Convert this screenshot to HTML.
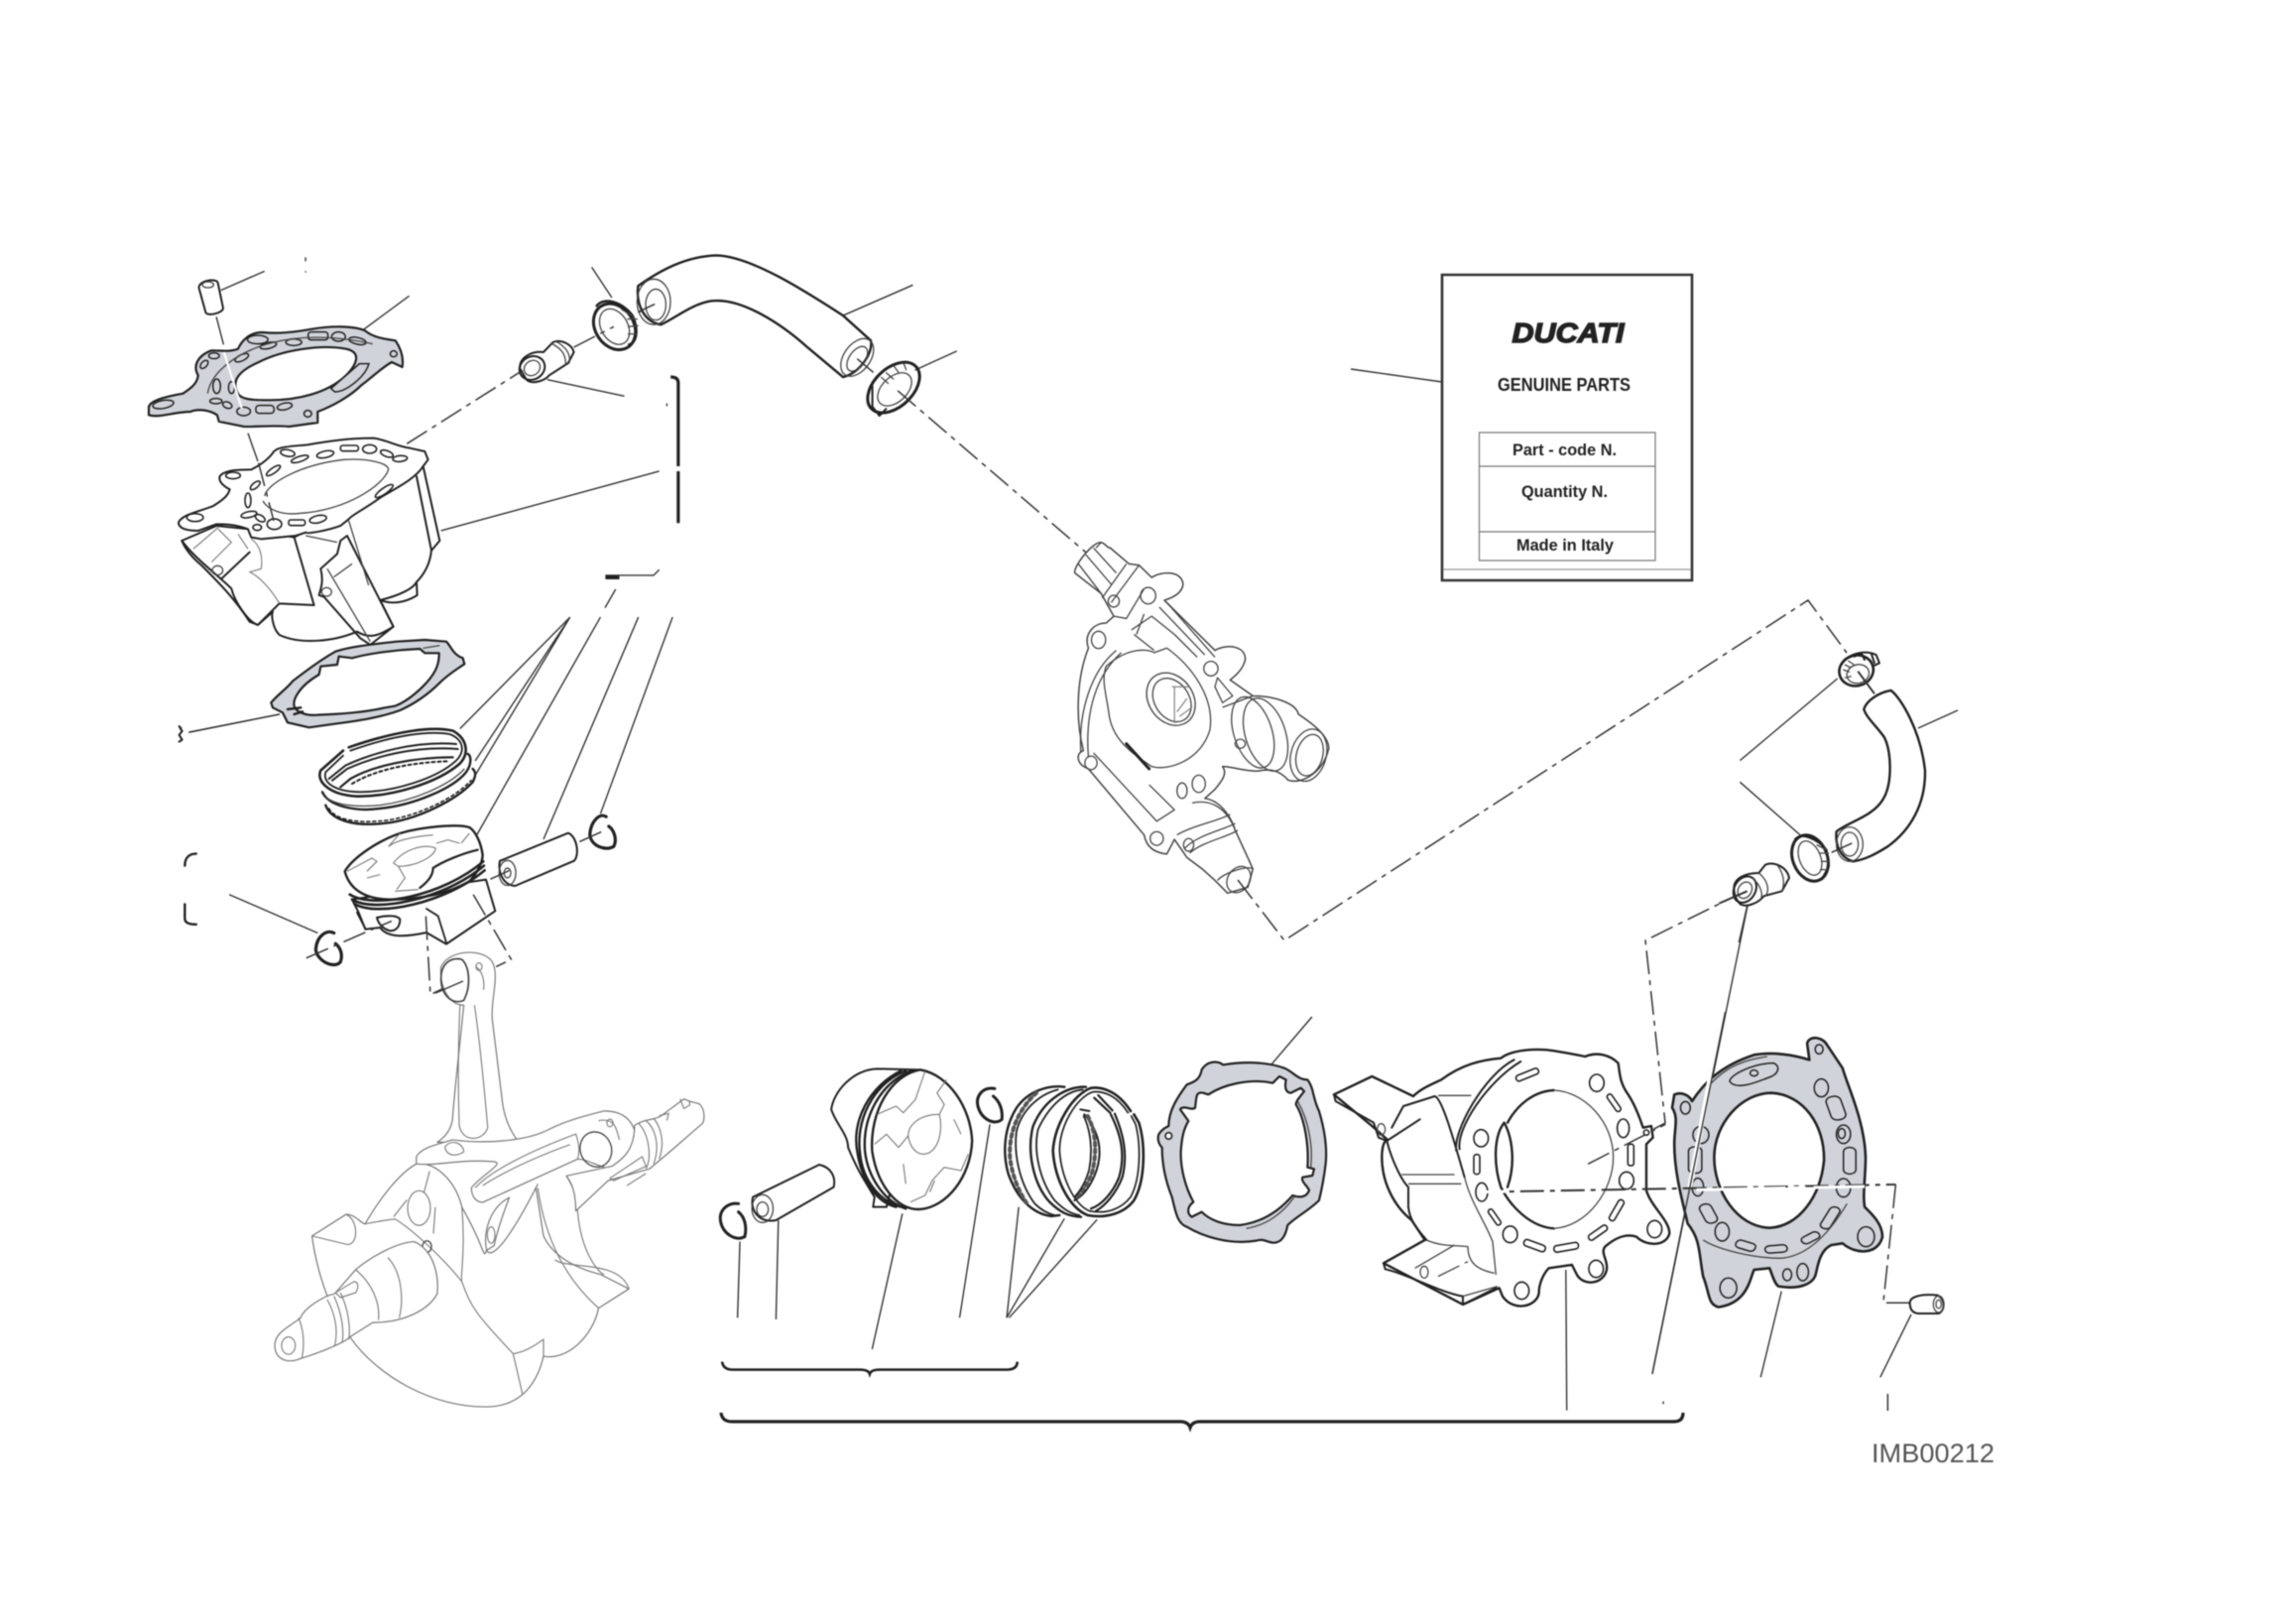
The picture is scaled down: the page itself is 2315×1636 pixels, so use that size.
<!DOCTYPE html>
<html><head><meta charset="utf-8"><title>Cylinder and piston parts diagram</title>
<style>
html,body{margin:0;padding:0;background:#fff}
svg{display:block;filter:blur(.4px)}
svg *{vector-effect:non-scaling-stroke}
.d{fill:none;stroke:#222;stroke-width:2;stroke-linejoin:round;stroke-linecap:round}
.df{fill:#fff;stroke:#222;stroke-width:2;stroke-linejoin:round}
.m{fill:none;stroke:#444;stroke-width:1.3;stroke-linejoin:round}
.mf{fill:#fff;stroke:#444;stroke-width:1.5;stroke-linejoin:round}
.l{fill:none;stroke:#777;stroke-width:1.1;stroke-linejoin:round}
.lf{fill:#fff;stroke:#777;stroke-width:1.2;stroke-linejoin:round}
.t{fill:none;stroke:#333;stroke-width:1.4}
.g{fill:#d0d3da;stroke:#222;stroke-width:2.2;fill-rule:evenodd;stroke-linejoin:round}
.s{fill:#d0d3da;stroke:#222;stroke-width:1.5}
.sw{fill:#fff;stroke:#222;stroke-width:1.6}
.dash{fill:none;stroke:#333;stroke-width:1.5;stroke-dasharray:24 6 5 6}
.w{fill:none;stroke:#fff;stroke-width:2.2}
.th{fill:none;stroke:#222;stroke-width:3.2}
.lab{font-family:"Liberation Sans",sans-serif;font-weight:bold;fill:#222;text-anchor:middle}
</style></head>
<body>
<svg xmlns="http://www.w3.org/2000/svg" width="2315" height="1636" viewBox="0 0 2315 1636">
<rect width="2315" height="1636" fill="#fff"/>

<!-- ============ GD: top-left cylinder ============ -->
<g transform="translate(170,430) scale(.3333)">
  <path class="df" d="M40,345 L145,300 L245,310 L380,335 L770,120 L820,345 L795,375 C790,420 770,450 750,470 L752,510 C720,530 680,540 640,525 L680,605 C640,630 610,645 570,620 C500,650 400,660 335,630 C315,610 310,570 315,560 L270,600 L245,590 C200,520 150,470 100,420 C70,395 50,370 40,345Z"/>
  <path class="d" d="M40,345 C80,400 150,450 190,490 C200,530 240,590 270,600 L335,535 M160,460 L245,380 M380,335 L440,540 M460,430 C470,470 460,490 455,510 L470,515 L580,640 L610,660 L680,605 L540,330 L520,345 L510,385 L460,430 M750,150 L795,375 M335,535 L440,540 M640,525 C700,510 740,490 750,470"/>
  <path class="m" d="M415,330 L510,350 M545,285 L605,480 M480,430 L610,650 M500,455 L555,415"/>
  <path class="l" d="M75,370 L150,305 M150,310 L190,350 L130,410 M210,325 L240,370 M250,340 C280,360 285,400 280,430 L245,440 C270,450 310,490 335,535"/>
  <ellipse class="m" cx="148" cy="435" rx="16" ry="14"/>
  <ellipse class="m" cx="478" cy="500" rx="15" ry="13"/>
  <path class="df" d="M30,290 C40,265 100,255 135,240 C160,225 180,210 185,190 C165,180 150,165 155,150 C170,130 220,130 250,130 C280,115 300,100 315,80 C325,60 370,60 420,55 C480,45 540,35 620,35 C660,40 690,60 730,65 L775,75 L785,100 L770,120 C745,160 680,190 640,215 C600,245 550,270 545,280 L520,300 C480,315 420,325 415,320 L385,330 L280,340 L250,335 L240,310 C200,295 170,295 145,295 L90,315 C60,315 30,310 30,290Z"/>
  <path class="m" d="M290,210 C300,170 400,115 530,100 C600,95 665,110 665,130 C650,180 530,255 400,262 C340,270 300,250 285,225"/>
  <g class="sw">
    <ellipse cx="195" cy="148" rx="22" ry="10"/><ellipse cx="80" cy="275" rx="25" ry="12"/>
    <ellipse cx="360" cy="80" rx="22" ry="10" transform="rotate(10 360 80)"/>
    <ellipse cx="397" cy="98" rx="27" ry="8" transform="rotate(-18 397 98)"/>
    <ellipse cx="474" cy="84" rx="26" ry="10" transform="rotate(-12 474 84)"/>
    <rect x="520" y="57" width="54" height="17" rx="7"/>
    <ellipse cx="608" cy="68" rx="21" ry="13"/>
    <ellipse cx="660" cy="82" rx="20" ry="9" transform="rotate(20 660 82)"/>
    <ellipse cx="700" cy="97" rx="22" ry="9" transform="rotate(-5 700 97)"/>
    <ellipse cx="317" cy="133" rx="25" ry="8" transform="rotate(-35 317 133)"/>
    <ellipse cx="262" cy="178" rx="18" ry="8" transform="rotate(-40 262 178)"/>
    <ellipse cx="240" cy="223" rx="9" ry="22"/>
    <ellipse cx="243" cy="266" rx="24" ry="9" transform="rotate(-12 243 266)"/>
    <ellipse cx="277" cy="277" rx="16" ry="9" transform="rotate(30 277 277)"/>
    <ellipse cx="320" cy="295" rx="22" ry="16"/>
    <ellipse cx="268" cy="305" rx="13" ry="9"/>
    <rect x="363" y="282" width="50" height="17" rx="7"/>
    <ellipse cx="452" cy="280" rx="26" ry="11" transform="rotate(-12 452 280)"/>
    <ellipse cx="652" cy="195" rx="32" ry="9" transform="rotate(-35 652 195)"/>
  </g>
  <path class="t" d="M240,20 L270,105"/>
  <path class="dash" d="M272,110 L318,285"/>
</g>

<!-- ============ G1: top-left parts ============ -->
<g transform="translate(150,240) scale(.3827,.3333)">
  <path class="t" d="M190,158 L305,100 M562,280 L686,175 M1050,428 L1253,478 M770,885 L1345,705 M1167,88 L1220,180"/>
  <path class="df" d="M132,150 C132,128 178,120 182,135 L196,212 C196,226 155,238 150,225 Z"/>
  <ellipse class="m" cx="156" cy="141" rx="15" ry="9"/>
  <path class="t" d="M178,238 L197,322"/>
  <!-- head gasket -->
  <path class="g" d="M0,510 C5,490 50,478 90,470 C110,455 128,440 130,415 C115,385 130,355 165,340 C190,340 215,345 235,335 C245,310 265,285 300,285 C340,290 380,285 430,275 C480,265 540,265 570,280 C590,300 620,305 650,310 C665,335 672,360 668,390 L640,375 C610,395 590,420 560,445 C530,480 480,510 445,525 L445,558 L370,570 C320,565 280,572 250,570 L185,555 L180,535 C160,520 130,515 110,525 C70,525 25,545 0,535 Z M235,470 C215,430 240,400 290,375 C350,340 450,320 520,335 C560,345 550,380 520,415 C470,470 390,490 320,490 C280,490 245,490 235,470 Z"/>
  <g class="s">
    <ellipse cx="38" cy="503" rx="28" ry="12" transform="rotate(-12 38 503)"/>
    <ellipse cx="172" cy="356" rx="14" ry="9"/>
    <ellipse cx="146" cy="382" rx="8" ry="14" transform="rotate(35 146 382)"/>
    <ellipse cx="287" cy="307" rx="27" ry="13"/>
    <ellipse cx="315" cy="325" rx="22" ry="9" transform="rotate(-15 315 325)"/>
    <ellipse cx="382" cy="315" rx="21" ry="10"/>
    <rect x="420" y="284" width="52" height="24" rx="8"/>
    <ellipse cx="500" cy="298" rx="18" ry="14"/>
    <ellipse cx="550" cy="311" rx="23" ry="10" transform="rotate(15 550 311)"/>
    <ellipse cx="245" cy="362" rx="20" ry="9" transform="rotate(-30 245 362)"/>
    <ellipse cx="179" cy="448" rx="10" ry="22"/>
    <ellipse cx="218" cy="452" rx="8" ry="18"/>
    <ellipse cx="177" cy="493" rx="16" ry="8"/>
    <ellipse cx="207" cy="505" rx="13" ry="9" transform="rotate(30 207 505)"/>
    <ellipse cx="250" cy="524" rx="18" ry="13"/>
    <rect x="282" y="506" width="48" height="24" rx="9"/>
    <ellipse cx="358" cy="509" rx="20" ry="10" transform="rotate(-15 358 509)"/>
    <circle cx="419" cy="531" r="10"/>
    <circle cx="645" cy="350" r="9"/>
    <circle cx="541" cy="423" r="7"/>
    <path d="M480,455 L555,380 L580,380 C570,420 520,465 490,465 Z"/>
  </g>
  <path class="m" d="M155,470 C165,400 240,340 330,315 C420,290 510,300 590,320"/>
  <path class="w" d="M198,345 L245,515"/>
  <!-- fitting -->
  <path class="df" d="M978,395 C975,365 1005,340 1040,345 L1065,315 C1085,305 1115,320 1120,345 L1105,378 L1055,415 C1045,430 1010,445 995,428 Z"/>
  <ellipse class="d" cx="1010" cy="393" rx="32" ry="37" transform="rotate(30 1010 393)"/>
  <ellipse class="m" cx="1010" cy="393" rx="20" ry="24" transform="rotate(30 1010 393)"/>
  <path class="m" d="M1060,318 C1090,335 1100,355 1098,385 M1072,312 C1100,330 1112,350 1108,378"/>
  <path class="dash" d="M680,622 L985,400 M1120,330 L1225,268"/>
  <!-- clamp -->
  <ellipse class="d" cx="1227" cy="268" rx="52" ry="72" transform="rotate(-22 1227 268)" style="stroke-width:3"/>
  <ellipse class="m" cx="1227" cy="268" rx="36" ry="56" transform="rotate(-22 1227 268)"/>
  <path class="d" d="M1180,205 C1200,175 1250,195 1275,235 C1295,290 1280,320 1265,322" style="stroke-width:2.4"/>
  <path class="m" d="M1245,215 L1280,240 M1260,245 L1288,245 M1262,268 L1290,265 M1262,290 L1285,290"/>
  <path class="t" d="M1290,225 L1330,200"/>
  <!-- partial bracket fragments -->
  <path class="th" d="M1375,420 Q1395,420 1395,438 L1395,690 M1395,705 L1395,862"/>
  <path d="M1203,1018 H1240 V1032 H1203Z" fill="#222"/>
  <path class="t" d="M1240,1020 L1330,1020 L1345,1003 M1230,1062 L1202,1118"/>
  <path class="t" d="M85,1478 L85,1490"/>
  <path class="t" d="M105,1495 L345,1440"/>
  <path class="t" d="M413,58 V70 M413,100 V104 M1365,500 V508"/>
</g>

<!-- ============ GA: base gasket, rings, piston (top-left stack) ============ -->
<g transform="translate(260,630) scale(.3333)">
  <path class="g" d="M40,235 C60,210 85,195 105,170 C150,135 190,105 235,80 C280,65 350,58 420,50 L505,45 L570,50 C585,65 590,90 620,100 L625,118 C600,135 575,150 550,175 C510,215 470,240 430,258 C370,280 300,290 240,298 L155,310 L90,295 L75,265 L45,250Z M110,245 C105,225 125,185 185,150 L190,125 L240,120 L245,95 L285,100 C340,85 420,75 490,72 L505,85 L548,85 C550,125 530,155 500,185 C470,215 440,235 415,245 L385,250 C320,265 240,270 180,272 C150,275 115,265 110,245Z"/>
  <path class="d" d="M90,255 L130,250 M110,270 L135,262" style="stroke-width:2.4"/>
  <path class="m" d="M500,70 L550,62"/>
  <!-- third ring -->
  <path class="d" style="stroke-width:2.4" d="M205,545 C220,590 290,610 380,600 C480,590 600,530 650,475 C660,455 660,445 650,435"/>
  <path class="d" style="stroke-width:1.6;stroke-dasharray:3 3" d="M215,555 C235,590 300,600 380,592 C480,580 595,525 645,470"/>
  <!-- second ring -->
  <path class="d" style="stroke-width:2.4" d="M195,505 C215,550 300,565 370,555 C470,545 590,495 630,445 C648,420 645,395 635,390"/>
  <path class="m" d="M205,520 C235,545 300,552 370,545 C470,532 580,485 625,435"/>
  <!-- top ring -->
  <path class="d" style="stroke-width:2.6" d="M258,380 L190,440 C175,475 220,515 300,518 C400,520 540,480 610,420 C640,390 635,345 590,320 C530,305 420,320 275,370"/>
  <path class="d" style="stroke-width:1.8" d="M258,395 L205,445 C195,480 240,505 310,505 C410,505 540,465 600,410 C630,380 620,345 580,330 C520,320 420,330 280,380"/>
  <!-- inner visible segments -->
  <path class="d" d="M215,465 L265,425 C350,385 480,350 600,360 M225,470 L270,435 C360,395 480,365 605,375" style="stroke-width:2"/>
  <path class="d" d="M250,490 L280,465 C350,425 470,400 590,400" style="stroke-width:2.2"/>
  <path class="d" style="stroke-width:2;stroke-dasharray:3 3" d="M285,480 C360,435 470,415 580,412"/>
  <!-- piston -->
  <path class="df" d="M305,870 L325,920 L370,915 C390,945 440,945 510,930 L570,965 L718,865 L690,770 L285,830 Z"/>
  <path class="df" style="stroke-width:2.4" d="M263,745 C290,700 370,650 430,630 C490,612 600,600 640,612 C660,625 675,660 680,695 C680,720 660,755 640,775 C580,810 500,830 400,830 C340,830 280,810 263,745Z"/>
  <path class="d" style="stroke-width:2.6" d="M278,815 C350,860 560,820 682,715 M285,830 C350,872 565,830 684,728 M292,843 C360,885 570,840 686,742"/>
  <path class="d" style="stroke-width:2.2" d="M490,795 C510,780 530,760 530,735 C560,715 620,690 665,680"/>
  <path class="l" d="M270,745 L345,705 L360,715 L330,745 M395,670 L430,630 M395,670 C420,650 470,640 530,635 M410,720 C440,680 500,660 538,675 C535,700 480,730 425,730 Z M425,730 L445,765 L420,800 M330,765 L370,755 M540,660 L575,650 L610,660 M615,660 L640,630 M415,805 L485,800"/>
  <path class="d" style="stroke-width:1.8" d="M510,858 L545,880 L570,960 M300,870 L325,918"/>
  <path class="df" style="stroke-width:2" d="M360,885 C380,880 420,875 430,890 C430,910 420,925 400,925 C380,920 365,905 360,885Z"/>
</g>

<!-- ============ G2: lower-left ============ -->
<g transform="translate(150,640) scale(.3827,.4847)">
  <path class="t" d="M1110,-37 L820,195 M1110,-37 L860,262 M1110,-37 L860,292 M1190,-37 L865,415 M1290,-37 L1040,425 M1380,-37 L1190,372 M212,540 L445,620 M107,202 L345,165"/>
  <path class="d" style="stroke-width:2.4" d="M95,480 C95,462 108,455 125,455 M95,560 L95,590 C95,600 110,602 125,602"/>
  <path class="d" d="M80,190 L88,200 L80,208 L88,218 L80,222"/>
  <!-- pin -->
  <path class="df" d="M925,470 L1105,412 C1130,420 1135,460 1120,470 L965,522 C930,520 920,490 925,470Z"/>
  <ellipse class="m" cx="945" cy="495" rx="22" ry="26"/><ellipse class="m" cx="945" cy="495" rx="9" ry="10"/>
  <!-- clips -->
  <path class="d" style="stroke-width:3.2" d="M1205,378 C1190,370 1165,385 1162,415 C1165,440 1205,450 1225,440 C1235,425 1225,405 1212,398"/>
  <path class="d" style="stroke-width:3.2" d="M488,620 C470,612 442,625 440,655 C445,680 490,695 505,680 C512,665 505,650 492,642"/>
  <!-- dash lines -->
  <path class="dash" d="M415,672 L640,595"/>
  <path class="dash" d="M900,508 L950,490 M1135,430 L1205,405"/>
  <path class="dash" d="M730,585 L742,748 L830,715"/>
  <path class="dash" d="M855,540 L955,675 L915,690"/>
  <!-- rod -->
  <path class="lf" d="M770,690 C790,655 880,650 905,680 C925,710 900,760 905,800 L930,960 C935,1010 960,1040 975,1055 L760,1055 C780,1045 795,1030 800,1010 C805,950 820,850 830,770 C790,770 765,730 770,690Z"/>
  <path class="d" style="stroke:#444;stroke-width:1.7" d="M770,715 C770,680 800,670 825,675 C845,690 850,730 830,760 C800,770 770,750 770,715 Z"/>
  <path class="l" d="M820,770 C815,850 815,950 818,1020 C825,1055 880,1055 893,1025 C885,950 870,830 858,770 M862,690 C880,700 885,720 882,738"/>
  <circle class="l" cx="870" cy="690" r="8"/>
  <path class="t" d="M755,745 L828,720"/>
  <!-- crank -->
  <path class="lf" d="M430,1250 L520,1205 C545,1205 560,1225 570,1225 C610,1170 660,1120 705,1100 C760,1095 810,1140 825,1190 C890,1280 880,1300 890,1280 C920,1320 1050,1100 1020,1150 L1040,1250 C1070,1300 1140,1320 1190,1330 L1265,1360 L1185,1400 C1170,1460 1100,1510 1040,1500 C1030,1535 1000,1600 900,1605 C750,1610 600,1540 530,1460 C470,1400 440,1310 430,1250Z"/>
  <path class="l" d="M520,1205 C550,1215 555,1265 525,1268 L430,1250 M570,1225 C600,1220 640,1215 650,1215 C700,1240 780,1300 825,1345 C850,1400 860,1410 960,1495 C1000,1490 1030,1470 1040,1465 L1040,1500 M960,1495 L985,1580 M825,1190 C835,1280 820,1340 825,1345 M1025,1150 C1045,1260 1100,1340 1185,1400 M1070,1300 C1110,1320 1240,1300 1265,1360 M1100,1125 C1130,1160 1130,1195 1130,1200 C1140,1290 1190,1330 1200,1330"/>
  <ellipse class="l" cx="712" cy="1192" rx="30" ry="36"/>
  <path class="l" d="M740,1115 L725,1160 M755,1190 L750,1245 M680,1175 L645,1210"/>
  <circle class="m" cx="733" cy="1272" r="12"/>
  <path class="lf" d="M332,1480 C330,1450 370,1440 400,1420 C410,1400 460,1375 490,1370 L545,1320 C590,1290 660,1262 700,1262 C750,1280 765,1330 760,1370 C740,1400 680,1430 590,1430 L530,1460 C520,1470 460,1490 400,1505 C370,1515 335,1510 332,1480Z"/>
  <ellipse class="l" cx="368" cy="1478" rx="18" ry="18"/>
  <path class="l" d="M395,1420 C410,1450 410,1480 403,1505 M470,1382 C490,1410 500,1445 490,1478 M488,1375 C508,1410 515,1440 510,1472 M505,1368 C525,1400 532,1440 527,1465 M545,1320 C590,1350 610,1390 605,1425 M630,1295 C660,1320 675,1370 660,1420 M492,1368 L540,1345 C555,1345 552,1360 545,1368 L505,1378 Z"/>
  <!-- right side big end -->
  <path class="lf" d="M705,1085 C720,1065 760,1060 800,1050 C900,1060 1000,1050 1050,1030 C1100,1010 1150,1000 1200,990 C1250,990 1280,1010 1285,1050 C1280,1085 1240,1110 1210,1110 C1170,1100 1150,1090 1130,1090 L880,1180 C865,1180 850,1170 850,1150 C880,1120 950,1095 900,1095 C820,1090 760,1105 705,1100 Z"/>
  <path class="l" d="M780,1065 C800,1045 830,1060 830,1075 C810,1085 785,1085 780,1065 M860,1150 C900,1115 1000,1075 1125,1038 C1135,1060 1135,1075 1130,1090 M880,1145 C950,1110 1040,1080 1110,1060"/>
  <ellipse class="m" cx="1178" cy="1070" rx="42" ry="36" transform="rotate(15 1178 1070)"/>
  <path class="l" d="M1185,1010 C1225,1005 1230,1020 1240,1050"/>
  <circle class="l" cx="1215" cy="1015" r="8"/>
  <path class="lf" d="M890,1280 C880,1240 900,1190 950,1170 C930,1210 915,1250 910,1270 Z"/>
  <ellipse class="l" cx="902" cy="1248" rx="10" ry="17"/>
  <!-- crank right shaft -->
  <path class="lf" d="M1280,1020 C1310,1005 1330,1010 1350,1000 L1410,965 L1425,970 L1450,975 C1465,985 1465,1005 1460,1015 L1380,1070 L1320,1110 L1210,1135 L1125,1198 C1125,1160 1115,1140 1100,1125 L1220,1105 C1250,1090 1280,1070 1280,1020 Z"/>
  <path class="l" d="M1290,1015 C1320,1040 1325,1090 1310,1110 M1310,1010 C1340,1030 1345,1070 1330,1100 M1330,1005 C1350,1025 1360,1055 1345,1090 M1400,965 L1410,985 L1425,978 L1425,968 M1345,1000 L1370,995 L1365,1010 M1215,1130 L1300,1085 L1310,1105 L1225,1135 Z M1260,1145 L1310,1120"/>
</g>

<!-- ============ G3: hose + pump ============ -->
<g transform="translate(600,240) scale(.5102,.4592)">
  <path class="t" d="M490,170 L628,103 M632,290 L715,248"/>
  <path class="df" style="stroke-width:2.4" d="M85,105 C130,70 180,40 240,38 C310,40 420,120 490,170 L545,225 C550,250 525,295 490,305 L420,240 C370,190 290,130 230,138 C190,145 160,175 130,190 C100,185 80,150 85,105 Z"/>
  <ellipse class="m" cx="116" cy="140" rx="33" ry="50"/>
  <ellipse class="m" cx="120" cy="146" rx="20" ry="34"/>
  <path class="dash" d="M85,162 L118,145"/>
  <ellipse class="m" cx="518" cy="262" rx="27" ry="45" transform="rotate(30 518 262)"/>
  <ellipse class="m" cx="518" cy="265" rx="16" ry="30" transform="rotate(30 518 265)"/>
  <path class="dash" d="M518,265 L550,295"/>
  <!-- clamp right -->
  <ellipse class="d" cx="590" cy="328" rx="40" ry="64" transform="rotate(40 590 328)" style="stroke-width:3"/>
  <ellipse class="m" cx="592" cy="332" rx="26" ry="42" transform="rotate(40 592 332)"/>
  <path class="d" d="M548,325 L548,370 L562,390 L575,375"/>
  <path class="m" d="M565,305 L580,320 M575,295 L590,310 M590,280 L600,295 M610,275 L615,290"/>
  <path class="dash" d="M598,335 L970,690"/>
  <!-- pump -->
  <path class="mf" d="M948,735 C945,720 985,665 1000,668 C1012,672 1010,680 1018,680 L1055,715 L1075,718 L1100,745 C1120,730 1160,730 1162,760 C1160,780 1140,790 1125,795 L1225,905 C1250,890 1285,895 1285,925 C1280,950 1260,965 1255,970 L1300,1005 C1340,1005 1385,1020 1390,1045 C1410,1060 1450,1090 1450,1120 C1440,1170 1400,1200 1370,1190 C1350,1165 1330,1165 1310,1170 C1280,1170 1260,1160 1240,1160 C1250,1175 1240,1190 1225,1210 L1205,1230 C1240,1235 1260,1280 1265,1300 L1290,1360 L1300,1385 L1290,1425 L1250,1438 L1225,1410 L1200,1385 L1170,1360 L1145,1320 L1130,1352 C1110,1350 1090,1340 1085,1310 L975,1165 C950,1155 950,1130 965,1125 C950,1060 950,970 975,900 C965,870 985,845 1010,845 L1025,830 L1000,780 L948,735Z"/>
  <path class="m" d="M955,715 L1000,780 M970,695 L1020,760 M985,680 L1030,735 M1000,668 L990,680 M1050,715 L1002,790 M1075,718 L1020,800 M1025,830 L1050,835 L1085,770"/>
  <ellipse class="m" cx="1025" cy="797" rx="11" ry="13"/>
  <ellipse class="m" cx="1093" cy="785" rx="15" ry="18"/>
  <ellipse class="m" cx="995" cy="882" rx="14" ry="19"/>
  <ellipse class="m" cx="1217" cy="945" rx="14" ry="16"/>
  <ellipse class="m" cx="980" cy="1152" rx="12" ry="15"/>
  <ellipse class="m" cx="1193" cy="1198" rx="13" ry="19"/>
  <ellipse class="m" cx="1110" cy="1318" rx="13" ry="15"/>
  <ellipse class="m" cx="1173" cy="1332" rx="10" ry="14"/>
  <ellipse class="m" cx="1160" cy="1213" rx="10" ry="17"/>
  <path class="m" d="M1010,940 C1050,900 1090,900 1105,910 L1130,900 C1180,940 1225,1010 1215,1080 C1195,1150 1130,1170 1100,1160 C1060,1130 1020,1100 1015,1040 C1010,1000 1000,970 1010,940Z"/>
  <path class="m" d="M960,1130 C955,1040 980,950 1030,905 M975,1140 C968,1040 990,960 1040,910 M985,1130 L1110,1280 L1145,1255 L1095,1200 M1060,860 L1100,830 L1145,870 L1190,920 M1065,870 L1105,905 M1085,825 L1070,870 M1130,800 L1225,920 M1115,810 L1205,915"/>
  <ellipse class="m" cx="1138" cy="1012" rx="45" ry="60" transform="rotate(-25 1138 1012)"/>
  <ellipse class="m" cx="1140" cy="1014" rx="35" ry="50" transform="rotate(-25 1140 1014)"/>
  <path class="l" d="M1140,985 L1175,985 M1145,985 L1145,1065 M1170,1010 L1150,1040 M1155,1050 L1180,1030"/>
  <path class="d" d="M1050,1110 L1095,1165" style="stroke-width:3"/>
  <path class="m" d="M1230,965 L1260,1005 L1240,1020 L1225,985 Z M1240,1030 L1300,1005"/>
  <ellipse class="m" cx="1325" cy="1090" rx="40" ry="82" transform="rotate(-15 1325 1090)"/>
  <ellipse class="m" cx="1300" cy="1085" rx="38" ry="80" transform="rotate(-15 1300 1085)"/>
  <ellipse class="m" cx="1410" cy="1135" rx="35" ry="58" transform="rotate(12 1410 1135)"/>
  <ellipse class="m" cx="1412" cy="1135" rx="26" ry="46" transform="rotate(12 1412 1135)"/>
  <circle class="m" cx="1275" cy="1110" r="10"/>
  <path class="m" d="M1180,1240 C1220,1230 1250,1255 1265,1300 M1150,1310 C1180,1290 1230,1280 1255,1265 M1165,1340 C1190,1310 1240,1300 1265,1285 M1175,1350 C1200,1325 1250,1315 1270,1300 M1230,1410 C1240,1395 1290,1375 1300,1385"/>
  <ellipse class="m" cx="1272" cy="1408" rx="22" ry="30" transform="rotate(25 1272 1408)"/>
</g>
<path class="t" d="M1362,372 L1454,385"/>

<!-- leaders and main connector in page coordinates -->
<path class="dash" d="M1248,887 L1295,948 L1823,605 L1862,658"/>
<path class="t" d="M1762,913 L1666,1385"/>
<path class="dash" d="M1760,898 L1659,948 L1679,1132 L1601,1173"/>

<!-- ============ label ============ -->
<rect x="1454" y="277" width="252" height="308" fill="#fff" stroke="#333" stroke-width="2.6"/>
<line x1="1455" y1="574" x2="1705" y2="574" stroke="#999" stroke-width="1.2"/>
<rect x="1491.5" y="436" width="177.5" height="129" fill="none" stroke="#777" stroke-width="1.2"/>
<line x1="1491.5" y1="470" x2="1669" y2="470" stroke="#777" stroke-width="1.2"/>
<line x1="1491.5" y1="536" x2="1669" y2="536" stroke="#777" stroke-width="1.2"/>
<text class="lab" x="1581" y="345" font-size="28" font-style="italic" textLength="113" lengthAdjust="spacingAndGlyphs" style="stroke:#222;stroke-width:1.4">DUCATI</text>
<text class="lab" x="1577" y="394" font-size="18" textLength="134" lengthAdjust="spacingAndGlyphs">GENUINE PARTS</text>
<text class="lab" x="1577.5" y="459" font-size="16.5" textLength="105" lengthAdjust="spacingAndGlyphs">Part - code N.</text>
<text class="lab" x="1577.5" y="501" font-size="16.5" textLength="87" lengthAdjust="spacingAndGlyphs">Quantity N.</text>
<text class="lab" x="1578" y="555" font-size="16.5" textLength="98" lengthAdjust="spacingAndGlyphs">Made in Italy</text>

<!-- ============ G7: right hose ============ -->
<g transform="translate(1660,590) scale(.3333)">
  <path class="t" d="M578,282 L283,530 M283,595 L465,755 M822,432 L942,378 M305,970 L280,1080"/>
  <path class="df" style="stroke-width:2.4" d="M658,375 C665,350 700,325 740,318 C770,340 830,440 843,560 C845,660 800,740 730,790 C690,815 660,830 625,835 C590,825 570,790 575,745 C610,715 690,700 720,640 C745,590 740,500 720,460 C700,430 665,400 658,375Z"/>
  <ellipse class="m" cx="615" cy="783" rx="40" ry="52"/>
  <ellipse class="m" cx="615" cy="783" rx="26" ry="36"/>
  <path class="dash" d="M560,808 L622,780"/>
  <ellipse class="d" cx="635" cy="258" rx="52" ry="46" transform="rotate(-15 635 258)" style="stroke-width:2.6"/>
  <ellipse class="m" cx="640" cy="268" rx="34" ry="28" transform="rotate(-15 640 268)"/>
  <path class="d" d="M590,240 C610,205 660,195 695,210 L705,235 L685,245 M630,215 L650,205 L660,225 M680,205 L690,235"/>
  <path class="m" d="M595,255 L615,262 M600,240 L620,250 M610,228 L628,240 M600,280 L620,275"/>
  <path class="t" d="M640,260 L690,328" style="stroke-width:2"/>
  <ellipse class="d" cx="495" cy="825" rx="52" ry="72" transform="rotate(-22 495 825)" style="stroke-width:3"/>
  <ellipse class="m" cx="495" cy="825" rx="32" ry="54" transform="rotate(-22 495 825)"/>
  <path class="d" d="M450,768 C470,745 520,770 545,800 L552,850 L530,890"/>
  <path class="m" d="M515,785 L545,800 M525,810 L552,810 M528,835 L552,835 M525,860 L548,860"/>
  <path class="df" d="M265,915 C265,885 300,870 340,870 L360,845 C385,835 425,850 432,885 L410,925 L355,940 C340,960 305,975 285,965 C270,950 265,935 265,915Z"/>
  <ellipse class="d" cx="298" cy="920" rx="32" ry="42" transform="rotate(30 298 920)"/>
  <ellipse class="m" cx="298" cy="922" rx="20" ry="26" transform="rotate(30 298 922)"/>
  <path class="m" d="M320,885 C345,905 355,935 345,950 M340,870 C365,890 375,920 360,940 M395,845 C415,870 420,900 410,925"/>
  <path class="t" d="M220,962 L305,925" style="stroke-width:2"/>
</g>

<!-- ============ G5: bottom parts ============ -->
<g transform="translate(700,1020) scale(.4847,.3333)">
  <path class="t" d="M95,695 L90,925 M175,630 L170,930 M433,610 L370,1020 M615,340 L552,925 M675,590 L650,925 M770,625 L650,925 M838,628 L655,925 M1200,160 L1285,15"/>
  <!-- clips -->
  <path class="d" style="stroke-width:3" d="M92,580 C70,575 50,600 55,635 C60,670 85,695 105,680 C110,650 105,620 92,605"/>
  <path class="d" style="stroke-width:3" d="M625,232 C600,225 585,255 590,285 C597,325 625,345 640,325 C642,295 635,270 622,255"/>
  <!-- pin -->
  <path class="df" d="M122,560 L260,462 C285,470 295,500 290,530 L170,630 C135,640 115,600 122,560Z"/>
  <ellipse class="m" cx="142" cy="595" rx="22" ry="42"/><ellipse class="m" cx="142" cy="597" rx="12" ry="22"/>
  <!-- piston -->
  <path class="df" d="M285,295 C290,240 330,175 380,172 L470,175 L400,590 L372,590 L375,560 C350,500 340,480 320,410 C320,370 295,340 285,295Z"/>
  <path class="df" style="stroke-width:2.4" d="M470,175 C530,190 575,290 578,390 C575,500 525,590 470,597 C420,600 380,520 370,420 C365,300 410,190 470,175Z"/>
  <path class="d" style="stroke-width:2.4" d="M440,178 C370,220 335,330 345,430 C350,500 380,570 430,590 M430,178 C365,225 325,330 340,430 C348,500 375,575 420,590 M455,176 C385,215 350,320 355,420 C360,490 390,570 440,595"/>
  <path class="l" d="M380,310 L420,285 L435,305 L460,265 L480,180 M375,400 L400,370 L425,410 L445,375 M445,375 C445,340 470,310 510,310 C515,340 515,400 490,425 C470,440 450,420 445,375 M510,310 L520,280 L505,245 L525,205 M435,460 L440,520 M450,575 L480,555 L495,510 L520,470 L555,480 L570,430 M540,325 L555,370 M500,510 L490,545"/>
  <!-- big brace -->
  <path class="th" d="M58,1058 Q60,1082 80,1082 L345,1082 Q362,1082 365,1095 Q368,1082 385,1082 L650,1082 Q672,1082 672,1058" style="stroke-width:2.6"/>
</g>
<path class="th" d="M727,1424 Q728,1433 738,1433 L1190,1433 Q1198,1433 1200,1439 Q1202,1433 1210,1433 L1688,1433 Q1697,1433 1697,1424"/>

<!-- ============ GB: bottom rings + gasket ============ -->
<g transform="translate(1000,1060) scale(.3333)">
  <!-- ring 1 -->
  <path class="d" style="stroke-width:2.4" d="M220,107 C170,100 110,120 75,170 C40,225 30,300 50,370 C75,440 120,490 180,498 L205,495"/>
  <path class="d" style="stroke-width:1.8" d="M200,115 C140,130 90,180 75,240 C65,310 85,400 130,460 C150,480 170,490 190,495"/>
  <path class="d" style="stroke-width:4;stroke-dasharray:3 4;stroke:#555" d="M135,125 C85,170 50,240 55,320 C62,380 85,430 110,465"/>
  <path class="d" style="stroke-width:2" d="M280,190 C310,225 330,270 325,320 C320,370 290,430 250,450 M268,175 L295,180"/>
  <path class="d" style="stroke-width:4;stroke-dasharray:3 4;stroke:#555" d="M290,195 C315,240 318,300 305,360 C295,395 275,420 258,440"/>
  <path class="d" style="stroke-width:1.8" d="M278,195 C300,240 305,300 295,355 C285,395 265,425 250,440"/>
  <!-- ring 2 -->
  <path class="d" style="stroke-width:2.4" d="M285,107 C230,105 160,140 125,225 C105,300 125,400 175,455 C205,485 230,498 270,500"/>
  <path class="d" style="stroke-width:1.8" d="M275,115 C225,120 175,160 140,235 C125,300 145,390 190,450 C220,480 240,490 265,495"/>
  <path class="d" style="stroke-width:2.2" d="M360,190 C390,250 405,310 385,380 C365,430 330,465 300,475 M372,188 C398,250 412,310 395,380 C375,432 340,468 315,482 M310,140 L358,185 M322,132 L365,178"/>
  <!-- ring 3 -->
  <path class="d" style="stroke-width:2.6" d="M420,180 C385,125 340,105 300,110 C245,130 190,220 185,300 C190,380 230,470 290,495 C345,505 400,490 430,450 C465,390 465,280 445,215 L430,190"/>
  <path class="d" style="stroke-width:1.7" d="M412,185 C380,135 340,118 305,122 C255,140 205,225 205,300 C210,375 245,460 295,482 C345,492 390,478 420,440 C450,385 452,285 435,220 L422,195"/>
  <!-- gasket -->
  <path class="g" d="M505,250 C515,235 525,230 535,225 C535,180 560,140 590,100 C620,90 630,80 635,55 C650,30 680,25 700,40 C760,30 830,30 885,50 C910,60 925,85 955,85 C975,110 970,140 990,180 C1005,230 1015,290 1010,340 C1005,380 1000,410 990,450 C960,480 920,500 895,525 C890,550 880,580 850,578 C830,575 820,565 800,572 C720,585 640,560 590,530 C560,520 555,480 545,440 C525,390 515,340 515,290 C505,280 500,265 505,250Z M572,300 C575,260 580,235 595,210 L570,175 C580,160 605,180 615,170 C620,140 615,120 640,125 L655,130 C700,100 780,80 850,95 L870,75 L890,85 C885,110 890,125 905,125 L935,110 L945,120 C930,140 920,150 920,160 C945,200 960,280 955,350 L975,355 L970,375 L940,380 C935,395 955,405 960,420 C950,445 925,440 910,435 C880,470 830,515 750,525 C700,525 660,510 635,485 L605,500 C590,490 590,470 610,455 C585,410 570,350 572,300Z"/>
  <circle class="sw" cx="535" cy="255" r="10"/>
  <path class="m" d="M925,150 C960,210 972,290 965,350 M915,440 C880,490 830,525 770,535"/>
</g>

<!-- ============ GC: bottom-right cylinder ============ -->
<g transform="translate(1340,1040) scale(.3333)">
  <path class="df" style="stroke-width:2.4" d="M520,80 C545,60 600,50 660,55 C700,60 750,70 775,75 C810,60 850,70 875,95 C880,130 880,155 905,190 C925,220 940,260 950,290 L975,285 L980,320 L960,340 L960,480 C975,530 1030,570 1030,610 C1020,650 960,650 930,620 C900,610 870,620 835,650 C820,670 845,690 840,720 C830,765 770,770 750,735 L735,705 L665,715 C650,730 635,760 635,790 C630,830 560,850 525,800 L515,775 L405,825 L165,700 L290,630 L250,570 C200,530 160,460 160,380 C160,340 170,330 175,325 L130,285 L15,190 L130,135 L255,195 C280,170 320,155 340,145 C400,100 460,85 520,80Z"/>
  <path class="d" d="M15,190 L20,210 L135,275 L150,320 L175,330 L275,265 M190,290 L225,225 L320,195 C340,200 370,300 410,440 M175,330 C190,390 220,450 240,470 L240,530 C245,580 280,610 295,630 M165,700 L170,718 C230,730 340,790 405,800 L405,825 L505,775 M385,360 C375,300 470,130 560,85 M395,355 C385,290 480,150 580,90"/>
  <path class="m" d="M410,440 C430,520 470,570 495,635 L505,735 M330,193 L430,193 M220,432 L380,432 M240,460 L400,460 M295,630 C340,650 380,645 420,650 C420,700 450,720 500,730 M260,715 L380,645 M405,800 L510,770"/>
  <path class="m" style="stroke-dasharray:24 6" d="M330,740 L420,695"/>
  <ellipse class="m" cx="288" cy="727" rx="12" ry="18"/>
  <ellipse class="m" cx="158" cy="295" rx="12" ry="17"/>
  <path class="d" style="stroke-width:2.4" d="M540,275 C570,220 620,180 680,177 M680,595 C610,590 550,530 520,470 C500,410 495,320 530,275 C555,320 565,400 540,470"/>
  <path class="m" d="M680,177 C770,180 860,270 860,380 C860,480 780,590 680,595"/>
  <g class="sw">
    <rect x="564" y="121" width="72" height="18" rx="8" transform="rotate(-22 600 130)"/>
    <ellipse cx="810" cy="155" rx="22" ry="26"/>
    <rect x="832" y="207" width="60" height="16" rx="7" transform="rotate(55 862 215)"/>
    <ellipse cx="890" cy="292" rx="18" ry="28"/>
    <rect x="904" y="340" width="18" height="65" rx="7"/>
    <ellipse cx="900" cy="450" rx="22" ry="26"/>
    <ellipse cx="460" cy="322" rx="22" ry="26"/>
    <rect x="438" y="371" width="18" height="60" rx="8"/>
    <ellipse cx="462" cy="485" rx="18" ry="28"/>
    <rect x="493" y="533" width="15" height="55" rx="7" transform="rotate(-35 501 560)"/>
    <ellipse cx="548" cy="613" rx="22" ry="25"/>
    <rect x="588" y="637" width="68" height="20" rx="9" transform="rotate(20 622 647)"/>
    <rect x="680" y="642" width="75" height="20" rx="9" transform="rotate(-10 717 652)"/>
    <rect x="781" y="599" width="65" height="18" rx="8" transform="rotate(-35 813 608)"/>
    <rect x="835" y="531" width="70" height="18" rx="8" transform="rotate(-60 870 540)"/>
    <ellipse cx="985" cy="597" rx="22" ry="26"/>
    <ellipse cx="808" cy="717" rx="22" ry="26"/>
    <ellipse cx="583" cy="783" rx="22" ry="26"/>
    <circle cx="960" cy="305" r="8"/>
  </g>
</g>

<!-- ============ G6: head gasket + connectors ============ -->
<g transform="translate(1340,1020) scale(.4464,.3333)">
  <path class="t" d="M535,780 L537,1205 M1022,845 L975,1105 M1315,915 L1245,1105"/>
  <path class="dash" d="M1262,1155 L1262,1205"/>
  <!-- head gasket -->
  <path class="g" style="stroke-width:2.6" d="M780,250 C800,240 815,255 820,270 C845,220 880,165 960,130 C1000,120 1050,130 1085,145 L1080,95 C1085,70 1115,75 1125,100 L1160,170 C1170,220 1210,330 1212,440 C1212,500 1205,550 1210,590 C1225,610 1250,640 1250,680 C1240,735 1190,735 1160,700 L1135,705 C1110,720 1105,760 1100,790 C1095,825 1060,840 1015,830 C1005,820 1000,790 995,775 L960,780 C950,810 945,880 880,893 C855,885 860,850 845,800 C835,730 840,690 810,640 C800,580 780,490 780,400 C780,350 790,320 775,290 Z M870,440 C870,340 930,245 1000,245 C1070,250 1120,340 1118,450 C1110,560 1060,650 995,653 C920,650 870,540 870,440 Z"/>
  <g class="s">
    <path d="M905,210 C905,190 960,155 1005,155 C1020,165 1015,185 1000,195 C970,210 920,240 905,210Z"/>
    <circle cx="960" cy="185" r="9"/>
    <ellipse cx="1112" cy="230" rx="16" ry="27"/>
    <ellipse cx="1107" cy="113" rx="9" ry="14"/>
    <rect x="1128" y="255" width="34" height="72" rx="15" transform="rotate(-15 1145 291)"/>
    <ellipse cx="1162" cy="370" rx="16" ry="28"/>
    <ellipse cx="1158" cy="368" rx="8" ry="15"/>
    <rect x="1162" y="410" width="28" height="80" rx="13"/>
    <ellipse cx="1162" cy="532" rx="16" ry="28"/>
    <rect x="1120" y="588" width="24" height="70" rx="11" transform="rotate(25 1132 623)"/>
    <rect x="1065" y="672" width="45" height="22" rx="10" transform="rotate(-35 1088 683)"/>
    <rect x="985" y="706" width="50" height="22" rx="10" transform="rotate(-6 1010 717)"/>
    <rect x="918" y="695" width="46" height="24" rx="10" transform="rotate(22 941 707)"/>
    <ellipse cx="888" cy="665" rx="16" ry="28"/>
    <rect x="843" y="580" width="28" height="60" rx="13" transform="rotate(-22 857 610)"/>
    <ellipse cx="833" cy="530" rx="13" ry="27"/>
    <rect x="812" y="408" width="30" height="80" rx="13"/>
    <ellipse cx="840" cy="372" rx="18" ry="26"/>
    <ellipse cx="805" cy="290" rx="11" ry="19"/>
    <ellipse cx="1213" cy="680" rx="19" ry="30"/>
    <ellipse cx="1070" cy="787" rx="13" ry="26"/>
    <ellipse cx="1035" cy="795" rx="10" ry="18"/>
    <ellipse cx="902" cy="835" rx="19" ry="30"/>
  </g>
  <path class="m" d="M845,690 C880,720 960,745 1020,745 C1080,740 1130,670 1170,580 M850,235 C880,190 910,150 990,135"/>
  <!-- vertical leader halo -->
  <path class="w" style="stroke-width:5" d="M862,190 L815,530"/>
  <path class="t" d="M895,0 L730,1095"/>
  <!-- horizontal connector -->
  <path class="dash" d="M340,545 L1280,522" style="stroke-width:2"/>
  <path class="w" style="stroke-width:3;stroke-dasharray:90 8 12 8" d="M830,538 L1210,528"/>
  <path class="w" style="stroke-width:3" d="M340,545 L400,543"/>
  <path class="dash" d="M1280,522 L1252,880 L1312,880"/>
  <path class="dash" d="M585,460 L760,340"/>
  <!-- dowel -->
  <path class="df" d="M1312,880 C1312,860 1340,852 1375,857 C1392,870 1392,900 1378,912 L1330,912 C1315,910 1312,895 1312,880Z"/>
  <ellipse class="m" cx="1377" cy="884" rx="12" ry="25"/><ellipse class="m" cx="1377" cy="884" rx="6" ry="13"/>
  <path class="t" d="M755,1178 V1186 M1262,1200 V1206"/>
</g>

<text x="1887" y="1474" font-family="'Liberation Sans',sans-serif" font-size="27" fill="#555" textLength="124" lengthAdjust="spacingAndGlyphs">IMB00212</text>
</svg>
</body></html>
